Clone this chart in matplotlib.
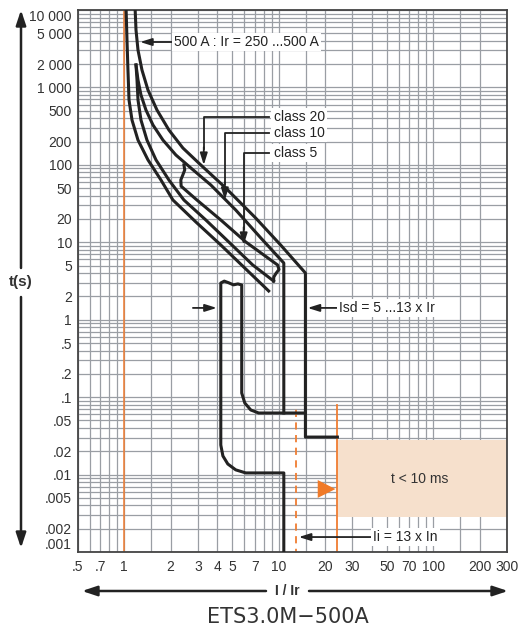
import matplotlib
matplotlib.use('Agg')
import matplotlib.pyplot as plt
from matplotlib.patches import Rectangle, Polygon

plt.rcParams['font.family'] = ['Liberation Sans', 'DejaVu Sans']

# --- curve data (I/Ir, t in s) ---
# long-time band, lower bound
lt_low_i = [1.03, 1.045, 1.06, 1.077, 1.126, 1.231, 1.428, 1.733, 2.07, 2.914, 4.225, 6.13, 8.62]
lt_low_t = [11000, 4100, 1680, 689, 379, 209, 116, 63.7, 35.2, 18.3, 9.23, 4.52, 2.35]

# class 20 / upper bound, ends in Isd max step
lt_high_i = [1.178, 1.195, 1.231, 1.306, 1.428, 1.633, 1.951, 2.403, 3.14, 4.55, 7.10, 10.3, 14.9, 14.9, 24]
lt_high_t = [11000, 5520, 3040, 1680, 927, 511, 282, 165, 99.5, 50.2, 20.6, 9.23, 4.01, 0.0305, 0.0305]

# class 10 curve, ends in vertical at Isd
c10_i = [1.195, 1.231, 1.287, 1.386, 1.539, 1.785, 2.165, 2.706, 3.64, 5.28, 7.66, 10.8, 10.8]
c10_t = [1950, 1250, 798, 511, 327, 209, 134, 91.1, 55.0, 26.1, 11.4, 5.40, 0.0624]

# second branch from same start
c_mid_i = [1.195, 1.213, 1.231, 1.287, 1.407, 1.609, 1.951, 2.438, 3.381, 4.757, 6.80, 9.28]
c_mid_t = [1950, 1250, 689, 379, 209, 116, 63.7, 35.2, 19.4, 10.1, 5.09, 3.16]

# class 5 curve with break marks at both ends
c5_i = [2.44, 2.47, 2.40, 2.33, 2.34, 2.958, 4.225, 6.13, 9.85, 10.05, 9.6, 9.3, 9.28]
c5_t = [100, 86, 74, 64, 53, 35.2, 19.4, 10.1, 5.09, 4.45, 3.95, 3.55, 3.16]

# short-time band at Isd = 5 x Ir (with break mark on top)
sd_i = [10.8, 10.8, 6.13, 5.28, 4.69, 4.36, 4.225, 4.225, 4.45, 4.75, 5.1, 5.45, 5.77,
        5.77, 6.04, 6.60, 7.43, 14.9]
sd_t = [0.0009, 0.0105, 0.0105, 0.0115, 0.0137, 0.0174, 0.0241, 2.98, 3.15, 3.0, 2.82, 2.9, 2.81,
        0.113, 0.084, 0.0683, 0.0624, 0.0624]

# instantaneous
ii_dash = 13
ii_line = 24
ii_top = 0.0746
ii_line_top = 0.0792
box_t = [0.0028, 0.028]
box_i = [24, 300]

x_ticks = [.5, .7, 1, 2, 3, 4, 5, 7, 10, 20, 30, 50, 70, 100, 200, 300]
x_labels = ['.5', '.7', '1', '2', '3', '4', '5', '7', '10', '20', '30', '50', '70', '100', '200', '300']
y_ticks = [.001, .002, .005, .01, .02, .05, .1, .2, .5, 1, 2, 5, 10, 20, 50, 100, 200, 500,
           1000, 2000, 5000, 10000]
y_labels = ['.001', '.002', '.005', '.01', '.02', '.05', '.1', '.2', '.5', '1', '2', '5', '10', '20',
            '50', '100', '200', '500', '1 000', '2 000', '5 000', '10 000']

W, H = 519, 631
fig = plt.figure(figsize=(W / 100, H / 100), dpi=100)
ax = fig.add_axes([77.5 / W, 1 - 552 / H, (507 - 77.5) / W, 542 / H])
ax.set_xscale('log')
ax.set_yscale('log')
ax.set_xlim(0.5, 300)
ax.set_ylim(0.001, 10000)

# grid
grid_c = '#9a9ea4'
x_minor = sorted({round(d * k, 4) for d in [0.1, 1, 10, 100] for k in [1, 1.5, 2, 3, 4, 5, 6, 7, 8, 9]})
y_minor = sorted({round(d * k, 6) for d in [0.001, 0.01, 0.1, 1, 10, 100, 1000] for k in range(1, 10)})
ax.set_xticks(x_ticks)
ax.set_xticklabels(x_labels)
ax.set_xticks([v for v in x_minor if 0.5 <= v <= 300], minor=True)
ax.set_yticks(y_ticks)
ax.set_yticklabels(y_labels)
ax.set_yticks([v for v in y_minor if 0.001 <= v <= 10000], minor=True)
ax.set_xticklabels([], minor=True)
ax.set_yticklabels([], minor=True)
ax.grid(which='both', color=grid_c, lw=0.9)
ax.set_axisbelow(True)
ax.tick_params(which='both', length=0, labelsize=10, labelcolor='#333333')
ax.tick_params(axis='x', pad=6)
ax.tick_params(axis='y', pad=4)
yl = ax.get_yticklabels()
yl[-1].set_va('top')
yl[0].set_va('bottom')
for s in ax.spines.values():
    s.set_color('#444444')
    s.set_linewidth(1.3)

orange = '#f07d32'
ax.axvline(1.0, color=orange, lw=1.1, zorder=1.2)
ax.add_patch(Rectangle((box_i[0], box_t[0]), box_i[1] - box_i[0], box_t[1] - box_t[0],
                       fc='#f6e0cc', ec='none', zorder=1.5))
ax.plot([ii_dash, ii_dash], [0.0009, ii_top], color=orange, lw=1.3, ls=(0, (4, 3)), zorder=2)
ax.plot([ii_line, ii_line], [0.0009, ii_line_top], color=orange, lw=1.3, zorder=2)
ax.add_patch(Polygon([(17.9, 0.0085), (17.9, 0.005), (23.3, 0.0065)], closed=True,
                     fc='#f07a28', ec='none', zorder=3))

lc = '#222222'
for xs, ys in [(lt_low_i, lt_low_t), (lt_high_i, lt_high_t), (c10_i, c10_t),
               (c_mid_i, c_mid_t), (c5_i, c5_t), (sd_i, sd_t)]:
    ax.plot(xs, ys, color=lc, lw=2.2, solid_joinstyle='round', zorder=3)

arr = dict(arrowstyle='-|>,head_length=0.7,head_width=0.22', color=lc, lw=1.3,
           shrinkA=0, shrinkB=0)
box = dict(fc='white', ec='none', pad=1.5)

ax.annotate('500 A : Ir = 250 ...500 A', xy=(1.27, 3860), xytext=(2.1, 3860),
            va='center', ha='left', fontsize=10, color='#222', bbox=box, arrowprops=arr, zorder=4)

for label, t_lab, x_arr, t_tip in [('class 20', 415, 3.28, 99.5),
                                   ('class 10', 258, 4.49, 35.2),
                                   ('class 5', 142, 5.94, 9.23)]:
    ax.plot([8.6, x_arr, x_arr], [t_lab, t_lab, t_tip * 1.6], color=lc, lw=1.3, zorder=4)
    ax.annotate('', xy=(x_arr, t_tip), xytext=(x_arr, t_tip * 1.7), arrowprops=arr, zorder=4)
    ax.text(9.27, t_lab, label, va='center', ha='left', fontsize=10, color='#222',
            bbox=box, zorder=4)

ax.annotate('Isd = 5 ...13 x Ir', xy=(15.4, 1.42), xytext=(24.5, 1.42),
            va='center', ha='left', fontsize=10, color='#222', bbox=box, arrowprops=arr, zorder=4)
ax.annotate('', xy=(3.98, 1.42), xytext=(2.79, 1.42), arrowprops=arr, zorder=4)

ax.text(82, 0.0088, 't < 10 ms', ha='center', va='center', fontsize=10, color='#333', zorder=4)
ax.annotate('Ii = 13 x In', xy=(13.5, 0.00156), xytext=(41, 0.00156),
            va='center', ha='left', fontsize=10, color='#222', bbox=box, arrowprops=arr, zorder=4)

# axis arrows in figure pixels
big = dict(arrowstyle='-|>,head_length=0.9,head_width=0.3', color=lc, lw=1.8,
           shrinkA=0, shrinkB=0)
ax.annotate('', xy=(21, H - 10), xycoords='figure pixels', xytext=(21, H - 268),
            textcoords='figure pixels', arrowprops=big, annotation_clip=False)
ax.annotate('', xy=(21, H - 548), xycoords='figure pixels', xytext=(21, H - 297),
            textcoords='figure pixels', arrowprops=big, annotation_clip=False)
fig.text(21 / W, 1 - 282 / H, 't(s)', ha='center', va='center', fontsize=11,
         fontweight='bold', color='#333')

ax.annotate('', xy=(82, H - 591), xycoords='figure pixels', xytext=(266, H - 591),
            textcoords='figure pixels', arrowprops=big, annotation_clip=False)
ax.annotate('', xy=(508, H - 591), xycoords='figure pixels', xytext=(309, H - 591),
            textcoords='figure pixels', arrowprops=big, annotation_clip=False)
fig.text(287 / W, 1 - 591 / H, 'I / Ir', ha='center', va='center', fontsize=10,
         fontweight='bold', color='#333', zorder=10,
         bbox=dict(fc='white', ec='none', pad=2))

fig.text(288 / W, 1 - 617 / H, 'ETS3.0M\u2212500A', ha='center', va='center', fontsize=15,
         color='#333', family='DejaVu Sans')

fig.savefig('out.png', dpi=100)
